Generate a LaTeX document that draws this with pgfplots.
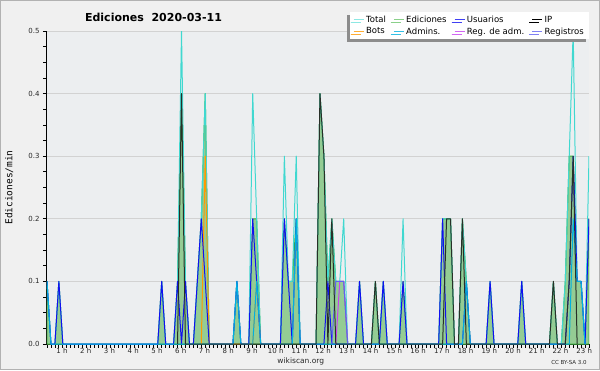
\documentclass[border=0pt]{standalone}
\usepackage{pgfplots}
\pgfplotsset{compat=1.18}
\usepackage{fontspec}
\setmainfont{DejaVu Sans}
\newfontfamily\monofont{DejaVu Sans Mono}
\usetikzlibrary{shadows}
\definecolor{bgout}{RGB}{240,240,240}
\definecolor{bgin}{RGB}{236,238,240}
\definecolor{cTotal}{RGB}{64,216,208}
\definecolor{cEdLine}{RGB}{60,176,60}
\definecolor{cEdFill}{RGB}{148,204,148}
\definecolor{cUsu}{RGB}{16,16,240}
\definecolor{cIP}{RGB}{40,48,40}
\definecolor{cBots}{RGB}{255,153,0}
\definecolor{cAdm}{RGB}{0,176,224}
\definecolor{cReg}{RGB}{200,64,240}
\definecolor{cRegistros}{RGB}{96,96,240}
\definecolor{txt}{RGB}{40,40,40}
\begin{document}
\begin{tikzpicture}
\useasboundingbox (0pt,0pt) rectangle (600pt,370pt);
\fill[bgout] (0pt,0pt) rectangle (600pt,370pt);
\draw[gray!60, line width=1pt] (0.5pt,0.5pt) rectangle (599.5pt,369.5pt);
\begin{axis}[
  at={(47pt,26pt)}, anchor=south west,
  scale only axis, width=542pt, height=313pt,
  xmin=0, xmax=137, ymin=0, ymax=0.5,
  axis background/.style={fill=bgin},
  axis x line*=bottom, axis y line*=left,
  axis line style={black, line width=1pt},
  tick align=outside,
  major tick length=4pt, minor tick length=3.5pt,
  tick style={black, line width=0.8pt},
  major x tick style={draw=none},
  xtick={3.8,9.8,...,135.8},
  xticklabels={1 h,2 h,3 h,4 h,5 h,6 h,7 h,8 h,9 h,10 h,11 h,12 h,13 h,14 h,15 h,16 h,17 h,18 h,19 h,20 h,21 h,22 h,23 h},
  minor xtick={0,1,...,137},
  ytick={0,0.1,...,0.5},
  minor y tick num=3,
  yticklabel style={/pgf/number format/fixed, /pgf/number format/fixed zerofill, /pgf/number format/precision=1},
  /pgf/number format/assume math mode=true,
  ticklabel style={font=\fontsize{7}{8}\selectfont, text=txt},
  xticklabel style={yshift=3pt},
  ymajorgrids, grid style={color=gray!35, line width=1pt},
  ylabel={Ediciones/min},
  every axis y label/.style={at={(axis description cs:0,0.5)}, xshift=-37.7pt, rotate=90, anchor=center, font=\monofont\fontsize{9.5}{10}\selectfont, text=black},
  title={Ediciones\ \ 2020-03-11},
  every axis title/.style={at={(axis description cs:0.1965,1)}, anchor=center, yshift=14pt, font=\bfseries\fontsize{11}{13}\selectfont},
  legend columns=4,
  legend style={at={(1,1)}, anchor=north east, yshift=19pt, draw=none, fill=white,
    font=\fontsize{8.5}{9}\selectfont, inner xsep=3pt, inner ysep=1.5pt,
    /tikz/every even column/.append style={column sep=5.5pt},
    drop shadow={shadow xshift=-3pt, shadow yshift=-3pt, fill=gray!90, opacity=1}},
  legend cell align=left,
  legend image code/.code={\draw[#1, line width=0.8pt] (0pt,0pt) -- (10pt,0pt);},
  line join=round,
]
\addlegendimage{cTotal!60}\addlegendentry{Total}
\addlegendimage{cEdLine!60}\addlegendentry{Ediciones}
\addlegendimage{cUsu!80}\addlegendentry{Usuarios}
\addlegendimage{black}\addlegendentry{IP}
\addlegendimage{cBots!80}\addlegendentry{Bots}
\addlegendimage{cAdm!80}\addlegendentry{Admins.}
\addlegendimage{cReg!80}\addlegendentry{Reg. de adm.}
\addlegendimage{cRegistros!80}\addlegendentry{Registros}

% Ediciones (area)
\addplot[forget plot, fill=cEdFill, draw=cEdLine, line width=1pt] coordinates {
(0,0.1)(1,0)(2,0)(3,0.1)(4,0)(28,0)(29,0.1)(30,0)(32,0)(33,0.1)(34,0.4)(35,0.1)(36,0)
(37,0)(38,0.1)(39,0.2)(40,0.4)(41,0)(47,0)(48,0.1)(49,0)(51,0)(52,0.2)(53,0.2)(54,0)
(59,0)(60,0.2)(61,0.1)(62,0.1)(63,0.2)(64,0)(68,0)(69,0.4)(70,0.3)(71,0.1)(72,0.2)(73,0.1)(74,0.1)(75,0.1)(76,0)
(78,0)(79,0.1)(80,0)(82,0)(83,0.1)(84,0)(85,0.1)(86,0)(89,0)(90,0.1)(91,0)
(99,0)(100,0.2)(101,0.2)(102,0.2)(103,0)(104,0)(105,0.2)(106,0.1)(107,0)
(111,0)(112,0.1)(113,0)(119,0)(120,0.1)(121,0)(127,0)(128,0.1)(129,0)
(130,0)(131,0.1)(132,0.3)(133,0.3)(134,0.1)(135,0.1)(136,0)(137,0.2)
} \closedcycle;
% Total
\addplot[forget plot, draw=cTotal, line width=1pt] coordinates {
(0,0.1)(1,0)(2,0)(3,0.1)(4,0)(28,0)(29,0.1)(30,0)(32,0)(33,0.1)(34,0.5)(35,0.1)(36,0)
(37,0)(38,0.1)(39,0.2)(40,0.4)(41,0)(47,0)(48,0.1)(49,0)(51,0)(52,0.4)(53,0.2)(54,0)
(59,0)(60,0.3)(61,0.1)(62,0.1)(63,0.3)(64,0)(68,0)(69,0.4)(70,0.3)(71,0.1)(72,0.2)(73,0.1)(74,0.1)(75,0.2)(76,0)
(78,0)(79,0.1)(80,0)(82,0)(83,0.1)(84,0)(85,0.1)(86,0)(89,0)(90,0.2)(91,0)
(99,0)(100,0.2)(101,0.2)(102,0.2)(103,0)(104,0)(105,0.2)(106,0.1)(107,0)
(111,0)(112,0.1)(113,0)(119,0)(120,0.1)(121,0)(127,0)(128,0.1)(129,0)
(130,0)(131,0.1)(132,0.3)(133,0.5)(134,0.1)(135,0.1)(136,0)(137,0.3)
};
% Bots
\addplot[forget plot, draw=cBots, line width=1pt] coordinates {
(39,0)(40,0.3)(41,0)(52,0)(53,0.1)(54,0)
};
% Usuarios
\addplot[forget plot, draw=cUsu, line width=1pt] coordinates {
(0,0.1)(1,0)(2,0)(3,0.1)(4,0)(28,0)(29,0.1)(30,0)(32,0)(33,0.1)(34,0)(35,0.1)(36,0)
(37,0)(38,0.1)(39,0.2)(40,0.1)(41,0)(47,0)(48,0.1)(49,0)(51,0)(52,0.2)(53,0.1)(54,0)
(59,0)(60,0.2)(61,0.1)(62,0)(63,0.2)(64,0)(70,0)(71,0.1)(72,0)
(78,0)(79,0.1)(80,0)(84,0)(85,0.1)(86,0)(89,0)(90,0.1)(91,0)
(99,0)(100,0.2)(101,0)(105,0)(106,0.1)(107,0)
(111,0)(112,0.1)(113,0)(119,0)(120,0.1)(121,0)
(131,0)(132,0.1)(133,0.3)(134,0.1)(135,0.1)(136,0)(137,0.2)
};
% Admins
\addplot[forget plot, draw=cAdm, line width=1pt] coordinates {
(0,0.1)(1,0)(47,0)(48,0.1)(49,0)(52,0)(53,0.1)(54,0)(62,0)(63,0.2)(64,0)
(105,0)(106,0.1)(107,0)(132,0)(133,0.2)(134,0.1)(135,0.1)(136,0)
};
% Reg. de adm.
\addplot[forget plot, draw=cReg, line width=1pt] coordinates {
(73,0)(74,0.1)(75,0.1)(76,0)
};
% Registros
\addplot[forget plot, draw=cRegistros, line width=1pt] coordinates {
(72,0)(73,0.1)(74,0.1)(75,0.1)(76,0)
};
% IP
\addplot[forget plot, draw=cIP, line width=1pt] coordinates {
(33,0)(34,0.4)(35,0)(68,0)(69,0.4)(70,0.3)(71,0)(72,0.2)(73,0)
(82,0)(83,0.1)(84,0)(100,0)(101,0.2)(102,0.2)(103,0)(104,0)(105,0.2)(106,0)
(127,0)(128,0.1)(129,0)(131,0)(132,0.1)(133,0.3)(134,0)
};
\end{axis}
\node[font=\fontsize{7.5}{8}\selectfont, text=txt] at (300.8pt,9pt) {wikiscan.org};
\node[font=\fontsize{5.5}{6}\selectfont, text=txt] at (569pt,7.5pt) {CC BY-SA 3.0};
\end{tikzpicture}
\end{document}
